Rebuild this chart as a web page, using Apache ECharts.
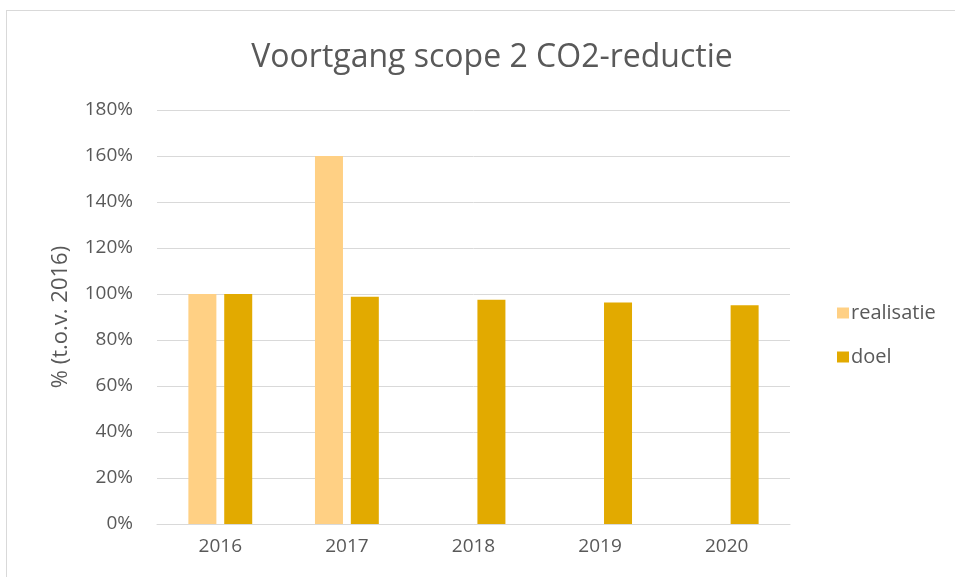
<!DOCTYPE html>
<html>
<head>
<meta charset="utf-8">
<script src="https://cdn.jsdelivr.net/npm/echarts@6/dist/echarts.min.js"></script>
<style>
  html, body { margin: 0; padding: 0; background: #fff; }
  #frame { position: absolute; left: 6px; top: 10px; width: 1000px; height: 600px;
           border-left: 1px solid #d9d9d9; border-top: 1px solid #d9d9d9; }
  #chart { position: absolute; left: 0; top: 0; width: 955px; height: 577px; }
</style>
</head>
<body>
<div id="frame"></div>
<div id="chart"></div>
<script>
const years = ['2016', '2017', '2018', '2019', '2020'];
const realisatie = [100, 160, null, null, null];
const doel = [100, 98.8, 97.5, 96.3, 95.1];
const textColor = '#595959';
const font = "'Open Sans', sans-serif";

const myChart = echarts.init(document.getElementById('chart'));

const option = {
    title: {
        text: 'Voortgang scope 2 CO2-reductie',
        left: 487, top: 37, textAlign: 'center',
        textStyle: { color: textColor, fontSize: 32, fontWeight: 'normal', fontFamily: font }
    },
    legend: {
        orient: 'vertical', left: 832, top: 298, itemGap: 24,
        itemWidth: 12, itemHeight: 11, icon: 'rect',
        textStyle: { color: textColor, fontSize: 20, fontFamily: font, padding: [0, 0, 0, -3] },
        data: ['realisatie', 'doel']
    },
    grid: { left: 157, right: 165, top: 110, bottom: 53 },
    xAxis: {
        type: 'category', data: years,
        axisLine: { lineStyle: { color: '#d9d9d9', width: 1 } },
        axisTick: { show: false },
        axisLabel: { color: textColor, fontSize: 19, fontFamily: font, margin: 13 }
    },
    yAxis: {
        type: 'value', min: 0, max: 180, interval: 20,
        name: '% (t.o.v. 2016)', nameLocation: 'middle', nameGap: 85, nameRotate: 90,
        nameTextStyle: { color: textColor, fontSize: 22, fontFamily: font },
        axisLabel: { color: textColor, fontSize: 19, fontFamily: font, margin: 24, formatter: '{value}%' },
        splitLine: { lineStyle: { color: '#d9d9d9', width: 1 } },
        axisLine: { show: false }, axisTick: { show: false }
    },
    series: [
        { name: 'realisatie', type: 'bar', data: realisatie, barWidth: 28, barGap: '28%',
          itemStyle: { color: '#ffd084' } },
        { name: 'doel', type: 'bar', data: doel, barWidth: 28,
          itemStyle: { color: '#e2aa00' } }
    ]
};

myChart.setOption(option);
</script>
</body>
</html>
